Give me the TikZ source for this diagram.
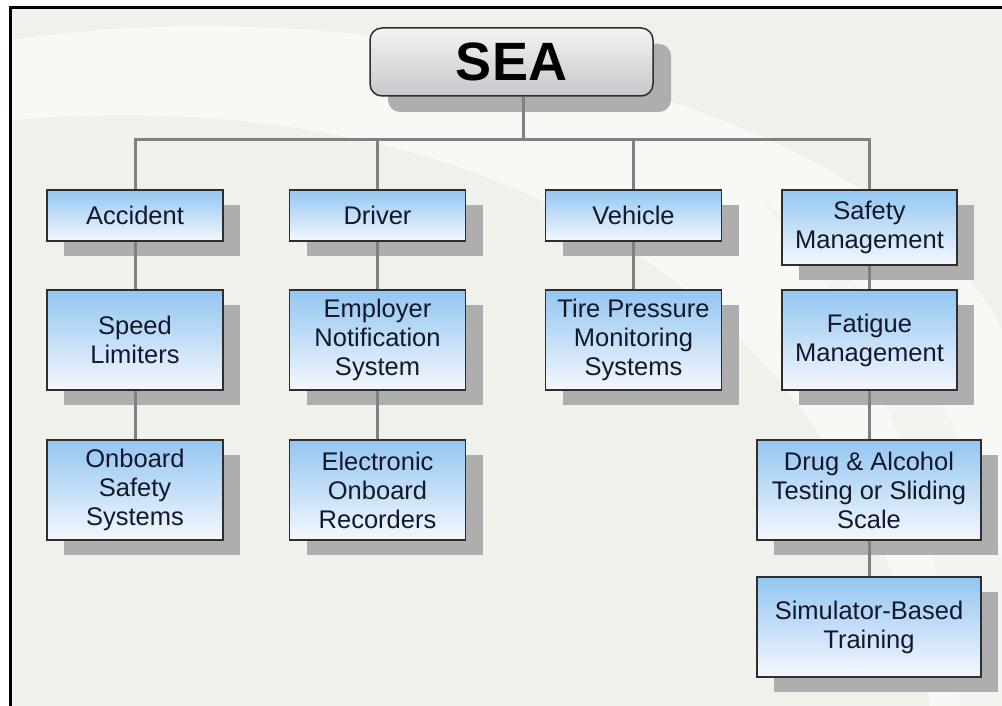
\documentclass[tikz,border=0pt]{standalone}
\usepackage{fontspec}
\setmainfont{Liberation Sans}
\usetikzlibrary{shadows}
\definecolor{bgbeige}{HTML}{F1F1EB}
\definecolor{shadowgray}{HTML}{AEAEAE}
\definecolor{conngray}{HTML}{808080}
\definecolor{boxtop}{HTML}{93C6F2}
\definecolor{boxbot}{HTML}{F5F8FD}
\definecolor{seatop}{HTML}{F4F4F4}
\definecolor{seabot}{HTML}{C6C7CB}
\definecolor{edgegray}{HTML}{2E2E2E}
\definecolor{txt}{HTML}{15172A}
\tikzset{
  bluebox/.style={draw=edgegray, line width=1.5pt, top color=boxtop, bottom color=boxbot,
    minimum width=#1, inner sep=0pt, align=center, text=txt,
    font=\fontsize{25.5}{29}\selectfont,
    general shadow={fill=shadowgray, shadow xshift=17pt, shadow yshift=-15pt}},
  bluebox/.default=176pt,
  seabox/.style={draw=edgegray, line width=1.5pt, rounded corners=12pt, top color=seatop, bottom color=seabot,
    minimum width=283pt, minimum height=68pt, inner sep=0pt, text=black,
    font=\fontsize{54}{60}\selectfont\bfseries,
    general shadow={fill=shadowgray, shadow xshift=18pt, shadow yshift=-16pt}},
  conn/.style={draw=conngray, line width=3pt},
}
\begin{document}
\begin{tikzpicture}[x=1pt,y=-1pt]
% background
\fill[white] (0,0) rectangle (1002,706);
\useasboundingbox (0,0) rectangle (1002,706);
\fill[bgbeige] (9,6) rectangle (1002,706);
\fill[white, opacity=0.5] (12,40) .. controls (400,-20) and (900,120) .. (1002,330)
  -- (1002,706) -- (930,706) .. controls (850,300) and (500,80) .. (12,120) -- cycle;
\fill[bgbeige, opacity=0.6] (1002,706) -- (960,706) .. controls (930,500) and (880,330) .. (760,200)
  .. controls (900,300) and (980,450) .. (1002,560) -- cycle;
\fill[black] (9,6) rectangle (12,706);
\fill[black] (9,6) rectangle (1002,9);

% nodes
\node[seabox] (sea) at (511.5,62) {SEA};

\node[bluebox, minimum height=51pt] (acc) at (135,215.5) {Accident};
\node[bluebox, minimum height=51pt] (drv) at (377.5,215.5) {Driver};
\node[bluebox, minimum height=51pt] (veh) at (633.5,215.5) {Vehicle};
\node[bluebox=175pt, minimum height=75pt] (saf) at (869.5,227.5) {Safety\\Management};

\node[bluebox, minimum height=100pt] (spd) at (135,340) {Speed\\Limiters};
\node[bluebox, minimum height=100pt] (emp) at (377.5,340) {Employer\\Notification\\System};
\node[bluebox, minimum height=100pt] (tire) at (633.5,340) {Tire Pressure\\Monitoring\\Systems};
\node[bluebox=175pt, minimum height=100pt] (fat) at (869.5,340) {Fatigue\\Management};

\node[bluebox, minimum height=100pt] (onb) at (135,490) {Onboard\\Safety\\Systems};
\node[bluebox, minimum height=100pt] (eor) at (377.5,490) {Electronic\\Onboard\\Recorders};
\node[bluebox=224pt, minimum height=100pt] (drug) at (869,490) {Drug \& Alcohol\\Testing or Sliding\\Scale};
\node[bluebox=224pt, minimum height=100pt] (sim) at (869,627) {Simulator-Based\\Training};

% connectors
\coordinate (bus) at (0,140);
\draw[conn] ([xshift=11.5pt]sea.south) -- ([xshift=11.5pt]sea.south |- bus);
\draw[conn] (acc.north) -- (acc.north |- bus) -- (saf.north |- bus) -- (saf.north);
\draw[conn] (drv.north) -- (drv.north |- bus);
\draw[conn] (veh.north) -- (veh.north |- bus);
\draw[conn] (acc) -- (spd);
\draw[conn] (spd) -- (onb);
\draw[conn] (drv) -- (emp);
\draw[conn] (emp) -- (eor);
\draw[conn] (veh) -- (tire);
\draw[conn] (saf) -- (fat);
\draw[conn] (fat.south) -- (fat.south |- drug.north);
\draw[conn] (drug) -- (sim);
\end{tikzpicture}
\end{document}
